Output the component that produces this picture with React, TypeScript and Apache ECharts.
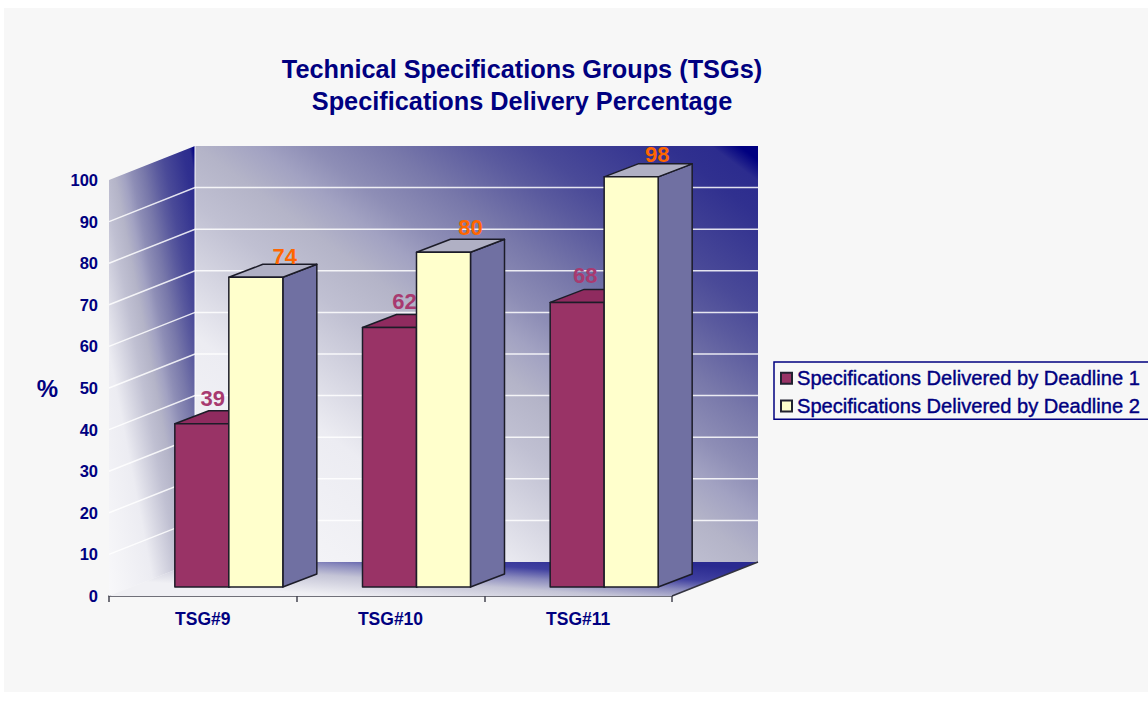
import React, { useEffect, useRef } from "react";
import * as echarts from "echarts";

const categories = ["TSG#9", "TSG#10", "TSG#11"];
const deadline1 = [39, 62, 68];
const deadline2 = [74, 80, 98];
const yTicks = [0, 10, 20, 30, 40, 50, 60, 70, 80, 90, 100];
const seriesNames = ["Specifications Delivered by Deadline 1", "Specifications Delivered by Deadline 2"];
const titleText = "Technical Specifications Groups (TSGs)\nSpecifications Delivery Percentage";

const NAVY = "#000080";
const WALL_DX = 86;
const WALL_DY = 34;
const FRONT_DX = 26;
const FRONT_DY = 9;
const FRONT_SCALE = 1.006;
const BAR_W = 54;
const SIDE_DX = 34;
const SIDE_DY = 13;
const EDGE = "#1c1c28";
const NUDGE_1 = [[0, 1], [4, 0], [-3, -1]];
const NUDGE_2 = [[1, 1], [-1, -3], [-2, 0]];

const stops = [
  { offset: 0, color: "#f8f8fa" },
  { offset: 0.27, color: "#ececf2" },
  { offset: 0.35, color: "#d6d6e2" },
  { offset: 0.43, color: "#c0c0d2" },
  { offset: 0.5, color: "#b4b4c8" },
  { offset: 0.555, color: "#a2a2c2" },
  { offset: 0.6, color: "#8e8eb6" },
  { offset: 0.67, color: "#7878aa" },
  { offset: 0.75, color: "#5a5a9e" },
  { offset: 0.8, color: "#4a4a98" },
  { offset: 0.92, color: "#30308f" },
  { offset: 0.96, color: "#2c2c8e" },
  { offset: 0.985, color: NAVY },
  { offset: 1, color: NAVY },
];

function grad(x0: number, y0: number, x1: number, y1: number) {
  return new echarts.graphic.LinearGradient(x0, y0, x1, y1, stops, true);
}

function renderWalls(params: any, api: any) {
  const v = api.value(0);
  const cs = params.coordSys;
  const y = api.coord([0, v])[1];
  const x0 = cs.x;
  const x1 = cs.x + cs.width;
  const children: any[] = [];
  if (params.dataIndex === 0) {
    const top = cs.y;
    const bot = cs.y + cs.height;
    children.push(
      {
        type: "polygon",
        shape: { points: [[x0 + WALL_DX, top - WALL_DY], [x1 + WALL_DX, top - WALL_DY], [x1 + WALL_DX, bot - WALL_DY], [x0 + WALL_DX, bot - WALL_DY]] },
        style: { fill: grad(277, 622, 675, 86) },
      },
      {
        type: "polygon",
        shape: { points: [[x0, top], [x0 + WALL_DX, top - WALL_DY], [x0 + WALL_DX, bot - WALL_DY], [x0, bot]] },
        style: { fill: grad(109, 596, 276, 564) },
      },
      {
        type: "polygon",
        shape: { points: [[x0, bot], [x0 + WALL_DX, bot - WALL_DY], [x1 + WALL_DX, bot - WALL_DY], [x1, bot]] },
        style: {
          fill: new echarts.graphic.LinearGradient(400, 600, 404, 544, [
            { offset: 0, color: "#f0f0f4" },
            { offset: 0.35, color: "#c4c4d6" },
            { offset: 0.55, color: "#8888bc" },
            { offset: 0.73, color: "#4040a0" },
            { offset: 1, color: "#2a2a90" },
          ], true),
        },
      },
      {
        type: "line",
        shape: { x1: x0 + WALL_DX, y1: top - WALL_DY, x2: x0 + WALL_DX, y2: bot - WALL_DY },
        style: { stroke: "rgba(255,255,255,0.8)", lineWidth: 1.2 },
      },
      {
        type: "line",
        shape: { x1, y1: bot, x2: x1 + WALL_DX, y2: bot - WALL_DY },
        style: { stroke: "#333340", lineWidth: 1.5 },
      }
    );
  }
  if (v > 0 && v < 100) {
    children.push({
      type: "polyline",
      shape: { points: [[x0, y], [x0 + WALL_DX, y - WALL_DY], [x1 + WALL_DX, y - WALL_DY]] },
      style: { fill: "none", stroke: "rgba(255,255,255,0.85)", lineWidth: 1.5 },
    });
  }
  return { type: "group", children };
}

function makeBarRenderer(side: number, front: string, topFill: string, sideFill: string, labelColor: string, labelDx: number, labelDy: number, nudges: number[][]) {
  return (params: any, api: any) => {
    const idx = api.value(0);
    const val = api.value(1);
    const p = api.coord([idx, val]);
    const b = api.coord([idx, 0]);
    const xl = p[0] + FRONT_DX + (side < 0 ? -BAR_W : 0);
    const xr = xl + BAR_W;
    const yb = b[1] - FRONT_DY;
    const yt = yb - (b[1] - p[1]) * FRONT_SCALE;
    const edge = { stroke: EDGE, lineWidth: 1.5, lineJoin: "round" };
    const nudge = nudges[params.dataIndex];
    return {
      type: "group",
      children: [
        {
          type: "polygon",
          shape: { points: [[xr, yt], [xr + SIDE_DX, yt - SIDE_DY], [xr + SIDE_DX, yb - SIDE_DY], [xr, yb]] },
          style: { fill: sideFill, ...edge },
        },
        {
          type: "polygon",
          shape: { points: [[xl, yt], [xl + SIDE_DX, yt - SIDE_DY], [xr + SIDE_DX, yt - SIDE_DY], [xr, yt]] },
          style: { fill: topFill, ...edge },
        },
        {
          type: "rect",
          shape: { x: xl, y: yt, width: BAR_W, height: yb - yt },
          style: { fill: front, ...edge },
        },
        {
          type: "text",
          x: xl + BAR_W / 2 + labelDx + nudge[0],
          y: yt + labelDy + nudge[1],
          style: {
            text: String(val),
            fill: labelColor,
            font: 'bold 22px "Liberation Sans", Arial, sans-serif',
            align: "center",
            verticalAlign: "middle",
          },
        },
      ],
    };
  };
}

export default function App() {
  const ref = useRef<HTMLDivElement>(null);
  useEffect(() => {
    if (!ref.current) return;
    const chart = echarts.init(ref.current, undefined, { renderer: "svg" });
    const font = '"Liberation Sans", Arial, sans-serif';
    chart.setOption({
      animation: false,
      backgroundColor: "#ffffff",
      graphic: [
        { type: "rect", z: -10, silent: true, shape: { x: 4, y: 8, width: 1144, height: 684 }, style: { fill: "#f7f7f7" } },
      ],
      title: {
        text: titleText,
        left: 517,
        top: 48,
        textAlign: "center",
        textStyle: { color: NAVY, fontFamily: font, fontWeight: "bold", fontSize: 25.3, lineHeight: 32 },
      },
      legend: {
        show: true,
        orient: "vertical",
        left: 774,
        top: 362,
        data: seriesNames.map((name) => ({ name, icon: "rect" })),
        itemWidth: 11,
        itemHeight: 11,
        itemGap: 7.5,
        padding: [6, 14, 3, 6],
        borderColor: NAVY,
        borderWidth: 1.5,
        backgroundColor: "#f7f7f7",
        selectedMode: false,
        textStyle: { color: NAVY, fontFamily: font, fontSize: 20.1, textBorderColor: NAVY, textBorderWidth: 0.4 },
      },
      grid: { left: 109, width: 563, top: 180, height: 416, containLabel: false },
      xAxis: {
        type: "category",
        data: categories,
        boundaryGap: true,
        axisLine: { show: true, lineStyle: { color: "#444450", width: 1.5 } },
        axisTick: { show: true, alignWithLabel: false, interval: 0, length: 6, lineStyle: { color: "#444450", width: 1.5 } },
        axisLabel: { color: NAVY, fontFamily: font, fontWeight: "bold", fontSize: 17.5, margin: 14 },
        splitLine: { show: false },
      },
      yAxis: {
        type: "value",
        min: 0,
        max: 100,
        interval: 10,
        name: "%",
        nameLocation: "middle",
        nameGap: 51,
        nameRotate: 0,
        nameTextStyle: { color: NAVY, fontFamily: font, fontWeight: "bold", fontSize: 24 },
        axisLine: { show: false },
        axisTick: { show: false },
        splitLine: { show: false },
        axisLabel: { color: NAVY, fontFamily: font, fontWeight: "bold", fontSize: 16.5, margin: 11, padding: [0, 0, 6, 0] },
      },
      series: [
        {
          type: "custom",
          name: "walls",
          clip: false,
          silent: true,
          renderItem: renderWalls,
          encode: { x: 1, y: 0 },
          data: yTicks.map((t) => [t, 0]),
          z: 1,
        },
        {
          type: "custom",
          name: seriesNames[0],
          clip: false,
          itemStyle: { color: "#993366", borderColor: "#222230", borderWidth: 1 },
          renderItem: makeBarRenderer(-1, "#993366", "#8f2b5f", "#6f6fa0", "#a83a70", 11, -26, NUDGE_1),
          encode: { x: 0, y: 1 },
          data: deadline1.map((v, i) => [i, v]),
          z: 2,
        },
        {
          type: "custom",
          name: seriesNames[1],
          clip: false,
          itemStyle: { color: "#ffffcc", borderColor: "#222230", borderWidth: 1 },
          renderItem: makeBarRenderer(1, "#ffffcc", "#b0b0c4", "#7070a2", "#ff6600", 28, -22, NUDGE_2),
          encode: { x: 0, y: 1 },
          data: deadline2.map((v, i) => [i, v]),
          z: 3,
        },
      ],
    });
    return () => chart.dispose();
  }, []);
  return <div ref={ref} style={{ position: "absolute", left: 0, top: 0, width: 1148, height: 709 }} />;
}
